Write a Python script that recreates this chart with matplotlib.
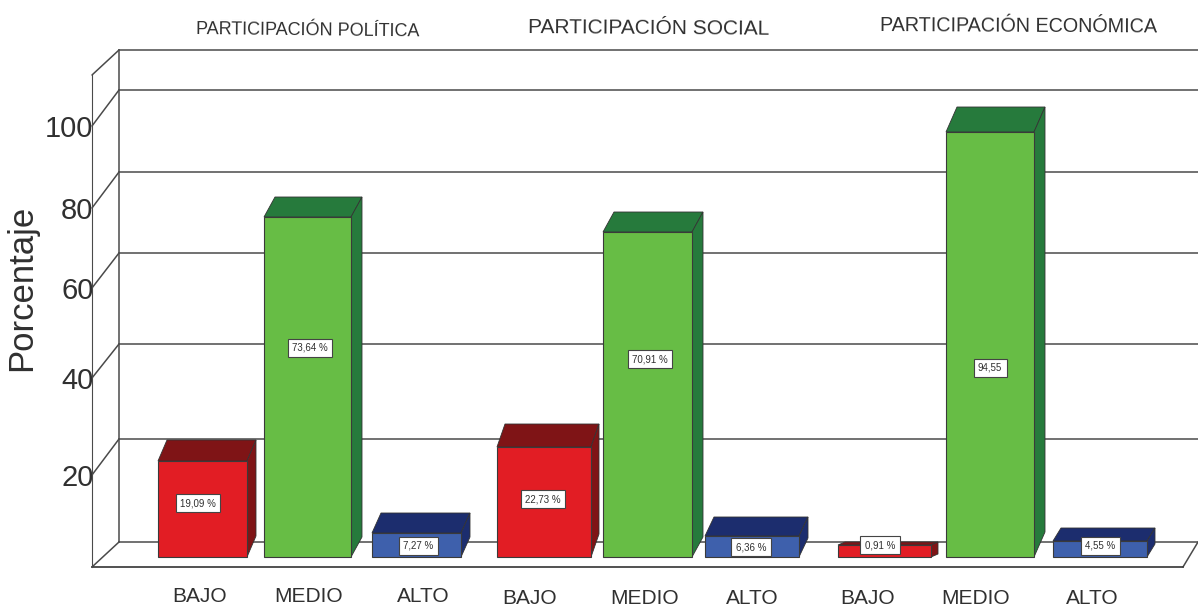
import numpy as np
import matplotlib
matplotlib.use("Agg")
import matplotlib.pyplot as plt
from matplotlib.patches import ConnectionPatch, Polygon
from matplotlib.transforms import IdentityTransform

W, H = 1198, 614

# datos
grupos = ["PARTICIPACIÓN POLÍTICA", "PARTICIPACIÓN SOCIAL", "PARTICIPACIÓN ECONÓMICA"]
niveles = ["BAJO", "MEDIO", "ALTO"]
politica = [19.09, 73.64, 7.27]
social = [22.73, 70.91, 6.36]
economica = [0.91, 94.55, 4.55]
etiquetas = ["19,09 %", "73,64 %", "7,27 %", "22,73 %", "70,91 %", "6,36 %", "0,91 %", "94,55", "4,55 %"]
ticks = [20, 40, 60, 80, 100]

# el grafico original no es lineal (escaneado), asi que cada plano tiene su escala
esc_barras_v = [-12, 0, 0.91, 4.55, 6.36, 7.27, 19.09, 22.73, 70.91, 73.64, 94.55, 100, 125]
esc_barras_y = [614, 557, 545, 541, 536, 533, 461, 447, 232, 217, 132, 108, 0]
esc_fondo_v = [-15, 0, 20, 40, 60, 80, 100, 110, 125]
esc_fondo_y = [614, 542, 439, 344, 253, 172, 90, 50, 0]
esc_pared_v = [-10, 0, 20, 40, 60, 80, 100, 110, 125]
esc_pared_y = [614, 567, 475, 378, 288, 208, 126, 75, 0]

# posiciones de dibujo
inicio_grupo = [202.5, 544, 884.5]
paso = [[0, 105, 214], [0, 103.5, 208], [0, 105.5, 215.5]]
ancho = [[89, 87, 89], [94, 89, 94], [93, 88, 94]]
prof_x = [[9, 11, 9], [8, 11, 9], [7, 11, 8]]
prof_y = [[21, 20, 20], [23, 20, 19], [3, 25, 13]]
etq_xy = [(198, 503), (310, 348), (418, 546), (543, 499), (650, 359), (751, 547),
          (880, 545), (990, 368), (1100, 546)]
nivel_xy = [(200, 597), (309, 596), (423, 596), (530, 598), (645, 598), (752, 598),
            (868, 598), (976, 598), (1092, 598)]
titulo_xy = [(308, 31, -0.6, 13), (649, 28, -0.4, 15), (1019, 26, -0.3, 14.2)]

colores = ["#E21D24", "#67BD45", "#3E60AC"]
oscuros = ["#7F1416", "#267A3C", "#1C2D6E"]
linea = "#4A4A4A"
texto = "#303030"


def px(x, y):
    return x / W, 1 - y / H


def crear_ejes(vals, ys, z):
    ax = fig.add_axes([0, 0, 1, 1], zorder=z)
    ax.patch.set_visible(False)
    vals = np.array(vals, dtype=float)
    ys = np.array(ys, dtype=float)
    ax.set_yscale("function", functions=(
        lambda v: np.interp(v, vals, -ys),
        lambda p: np.interp(p, -ys, vals)))
    ax.set_xlim(0, W)
    ax.set_ylim(vals[0], vals[-1])
    ax.set_xticks([])
    ax.set_yticks([])
    for s in ax.spines.values():
        s.set_visible(False)
    return ax


fig = plt.figure(figsize=(W / 100, H / 100), dpi=100, facecolor="white")

ax_fondo = crear_ejes(esc_fondo_v, esc_fondo_y, 1)
ax_pared = crear_ejes(esc_pared_v, esc_pared_y, 2)
ax = crear_ejes(esc_barras_v, esc_barras_y, 3)

# paredes y lineas de la cuadricula
for v in [0] + ticks + [110]:
    ax_fondo.plot([119, W], [v, v], color=linea, lw=1.1)
    ax_fondo.add_artist(ConnectionPatch((119, v), (92, v), coordsA=ax_fondo.transData,
                                        coordsB=ax_pared.transData, color=linea, lw=1.1))
ax_fondo.plot([119, 119], [0, 110], color=linea, lw=1.1)
ax_pared.plot([92, 1183], [0, 0], color="#333333", lw=1.2)
ax_pared.add_artist(ConnectionPatch((1183, 0), (W, 0), coordsA=ax_pared.transData,
                                    coordsB=ax_fondo.transData, color=linea, lw=1.1))

ax_pared.spines["left"].set_visible(True)
ax_pared.spines["left"].set_position(("data", 92))
ax_pared.spines["left"].set_bounds(0, 110)
ax_pared.spines["left"].set_color(linea)
ax_pared.set_yticks(ticks)
ax_pared.tick_params(axis="y", length=0, pad=-1, labelsize=21, labelcolor=texto)
for t in ax_pared.get_yticklabels():
    t.set_fontfamily(["Liberation Sans", "DejaVu Sans"])

# barras con su cara superior y lateral
for g, serie in enumerate([politica, social, economica]):
    for n, v in enumerate(serie):
        c = inicio_grupo[g] + paso[g][n]
        a = ancho[g][n]
        izq, der = c - a / 2, c + a / 2
        dx, dy = prof_x[g][n], prof_y[g][n]
        ax.bar(c, v, width=a, color=colores[n], edgecolor="#3A3A3A", linewidth=0.8, zorder=4)
        i_sup = ax.transData.transform((izq, v))
        d_sup = ax.transData.transform((der, v))
        d_inf = ax.transData.transform((der, 0))
        desp = np.array([dx, dy])
        ax.add_patch(Polygon([i_sup, d_sup, d_sup + desp, i_sup + desp], closed=True,
                             transform=IdentityTransform(), fc=oscuros[n], ec="#333333",
                             lw=0.6, zorder=3))
        ax.add_patch(Polygon([d_sup, d_sup + desp, d_inf + desp, d_inf], closed=True,
                             transform=IdentityTransform(), fc=oscuros[n], ec="#333333",
                             lw=0.6, zorder=3))

fam = ["Liberation Sans", "DejaVu Sans"]
for et, (x, y) in zip(etiquetas, etq_xy):
    fig.text(*px(x, y), et, ha="center", va="center", fontsize=7, color=texto, family=fam,
             zorder=10, bbox=dict(boxstyle="square,pad=0.45", fc="white", ec="#444444", lw=0.8))

for nv, (x, y) in zip(niveles * 3, nivel_xy):
    fig.text(*px(x, y), nv, ha="center", va="center", fontsize=15, color=texto,
             family=fam, zorder=10)

for tit, (x, y, r, tam) in zip(grupos, titulo_xy):
    fig.text(*px(x, y), tit, ha="center", va="center", fontsize=tam, color=texto, family=fam,
             rotation=r, zorder=10)

fig.text(*px(22, 288), "Porcentaje", rotation=90, ha="center", va="center", fontsize=25,
         color=texto, family=fam, zorder=10)

fig.savefig("out.png", dpi=100, facecolor="white")
